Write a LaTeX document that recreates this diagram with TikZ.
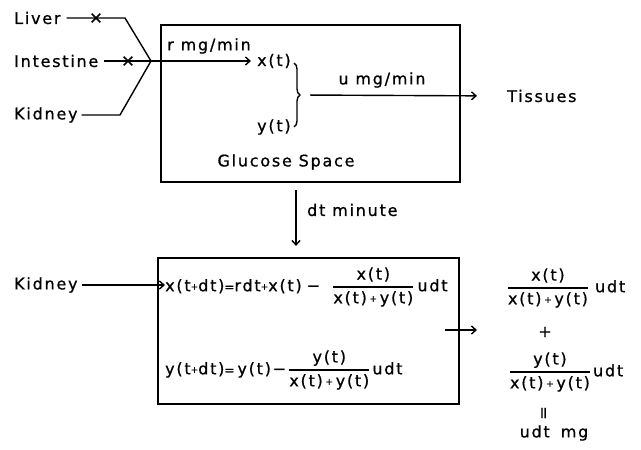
\documentclass[tikz,border=0pt]{standalone}
\usepackage{amsmath}
\usepackage{fontspec}
\setmainfont{DejaVu Sans}[LetterSpace=11,FakeBold=0.8]
\usetikzlibrary{arrows.meta,decorations.pathreplacing,shapes.misc}
\newcommand\myfrac[2]{\genfrac{}{}{1.2pt}{0}{\text{#1}}{\text{#2}}}
\newcommand\smp{\raisebox{1.5pt}{\fontsize{9}{9}\selectfont+}}
\newcommand\sme{{\fontsize{12}{12}\selectfont=}}
\newcommand\den{x(t)\,\smp\,y(t)}
\begin{document}
\begin{tikzpicture}[x=1pt,y=-1pt,
  lbl/.style={inner sep=0pt, font=\fontsize{16}{19}\selectfont},
  conn/.style={line width=1.4pt},
  arr/.style={conn, -{Straight Barb[length=4.5pt,width=8pt]}},
  xmark/.style={cross out, draw, line width=1.6pt, minimum size=7pt, inner sep=0pt},
  boxed/.style={draw, line width=1.4pt, inner sep=0pt}]
\useasboundingbox (0,0) rectangle (641,450);
% top box
\node[boxed, minimum width=299pt, minimum height=157pt] (top) at (310.5,103.5) {};
% sources
\node[lbl, anchor=west] (liver) at (14,18) {Liver};
\node[lbl, anchor=west] (intest) at (14,61) {Intestine};
\node[lbl, anchor=west] (kid1) at (14,115) {Kidney};
\coordinate (lc) at (125,18);
\coordinate (join) at (151,61);
\coordinate (kc) at (120,115);
\node[lbl, anchor=west] (xt) at (257,61) {x(t)};
\node[lbl, anchor=west] (yt) at (257,127) {y(t)};
\draw[conn, shorten <=6pt] (liver.east) -- (lc) -- (join);
\draw[conn, shorten <=4pt] (kid1.east) -- (kc) -- (join);
\draw[arr, shorten <=6pt, shorten >=6pt] (intest.east) -- (intest.east -| xt.west);
\node[xmark] (x1) at (96,18) {};
\node[xmark] (x2) at (128,61) {};
\node[lbl] (rlab) at (209,46) {r mg/min};
% brace
\coordinate (bt) at (294,63);
\coordinate (bb) at (294,127);
\coordinate (btip) at (301,95);
\draw[conn, decorate, decoration={brace, amplitude=6pt}] (bt) -- (bb);
\node[lbl, anchor=west] (tis) at (507,96) {Tissues};
\draw[arr, shorten <=9pt, shorten >=30pt] (btip) -- (tis.west);
\node[lbl] (ulab) at (382,80) {u mg/min};
\node[lbl] (gs) at (286,162) {Glucose Space};
% down arrow
\coordinate (d1) at (296,190);
\coordinate (d2) at (296,246);
\draw[arr] (d1) -- (d2);
\node[lbl, anchor=west] (dtm) at (307,210) {dt minute};
% bottom box
\node[boxed, minimum width=301pt, minimum height=146pt] (bot) at (308.5,331) {};
\node[lbl, anchor=west] (kid2) at (14,285) {Kidney};
\node[lbl, anchor=west] (eq1) at (165,287) {x(t\smp dt)\sme rdt\smp x(t)\hspace{5pt}−\hspace{12pt}$\myfrac{x(t)}{\den}$\hspace{3pt}udt};
\node[lbl, anchor=west] (eq2) at (165,370) {y(t\smp dt)\sme\hspace{3pt}y(t)−\hspace{2pt}$\myfrac{y(t)}{\den}$\hspace{2pt}udt};
\draw[arr, shorten <=4pt] (kid2.east) -- (kid2.east -| eq1.west);
\coordinate (r1) at (445,330);
\coordinate (r2) at (477,330);
\draw[arr] (r1) -- (r2);
% right column
\node[lbl] (f1) at (566,288) {$\myfrac{x(t)}{\den}$\hspace{6pt}udt};
\node[lbl] (plus) at (545,332) {+};
\node[lbl] (f2) at (566,372) {$\myfrac{y(t)}{\den}$\hspace{2pt}udt};
\node[lbl, rotate=90] (eqs) at (545,413) {=};
\node[lbl] (res) at (554,433) {udt\hspace{11pt}mg};
\end{tikzpicture}
\end{document}
